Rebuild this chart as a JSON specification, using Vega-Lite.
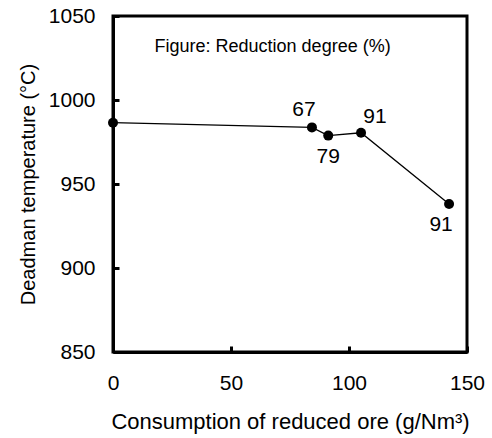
{
  "$schema": "https://vega.github.io/schema/vega-lite/v6.json",
  "width": 354,
  "height": 336,
  "autosize": "none",
  "padding": {"left": 113, "top": 16, "right": 25, "bottom": 86},
  "background": "white",
  "config": {
    "font": "Liberation Sans",
    "view": {"stroke": "black", "strokeWidth": 3},
    "axis": {
      "grid": false,
      "domainColor": "black",
      "domainWidth": 3,
      "tickColor": "black",
      "tickWidth": 3,
      "tickSize": -6,
      "labelFont": "Liberation Sans",
      "labelFontSize": 21,
      "labelColor": "black",
      "titleFont": "Liberation Sans",
      "titleFontWeight": "normal",
      "titleColor": "black",
      "format": "d"
    }
  },
  "datasets": {
    "pts": [
      {"ore": 0, "temp": 986.5, "degree": ""},
      {"ore": 84.3, "temp": 983.7, "degree": "67"},
      {"ore": 91.2, "temp": 978.8, "degree": "79"},
      {"ore": 105.1, "temp": 980.5, "degree": "91"},
      {"ore": 142.4, "temp": 938.1, "degree": "91"}
    ],
    "note": [
      {"ore": 17.6, "temp": 1031.5, "text": "Figure: Reduction degree (%)"}
    ]
  },
  "layer": [
    {
      "data": {"name": "pts"},
      "mark": {"type": "line", "color": "black", "strokeWidth": 1.3},
      "encoding": {
        "x": {
          "field": "ore", "type": "quantitative",
          "scale": {"domain": [0, 150], "nice": false},
          "axis": {"values": [0, 50, 100, 150], "format": "d", "labelPadding": 26, "title": "Consumption of reduced ore (g/Nm³)", "titleFontSize": 22, "titlePadding": 18, "labelFlush": false}
        },
        "y": {
          "field": "temp", "type": "quantitative",
          "scale": {"domain": [850, 1050], "nice": false, "zero": false},
          "axis": {"values": [850, 900, 950, 1000, 1050], "format": "d", "labelPadding": 24, "title": "Deadman temperature (°C)", "titleFontSize": 20, "titlePadding": 10, "labelFlush": false}
        }
      }
    },
    {
      "data": {"name": "pts"},
      "mark": {"type": "point", "filled": true, "color": "black", "size": 100, "opacity": 1},
      "encoding": {
        "x": {"field": "ore", "type": "quantitative"},
        "y": {"field": "temp", "type": "quantitative"}
      }
    },
    {
      "data": {"name": "pts"},
      "transform": [{"filter": "datum.degree == '67'"}],
      "mark": {"type": "text", "fontSize": 21, "color": "black", "dx": -8, "dy": -17},
      "encoding": {
        "x": {"field": "ore", "type": "quantitative"},
        "y": {"field": "temp", "type": "quantitative"},
        "text": {"field": "degree"}
      }
    },
    {
      "data": {"name": "pts"},
      "transform": [{"filter": "datum.degree == '79'"}],
      "mark": {"type": "text", "fontSize": 21, "color": "black", "dx": 0, "dy": 21},
      "encoding": {
        "x": {"field": "ore", "type": "quantitative"},
        "y": {"field": "temp", "type": "quantitative"},
        "text": {"field": "degree"}
      }
    },
    {
      "data": {"name": "pts"},
      "transform": [{"filter": "datum.degree == '91' && datum.ore < 120"}],
      "mark": {"type": "text", "fontSize": 21, "color": "black", "dx": 14, "dy": -16},
      "encoding": {
        "x": {"field": "ore", "type": "quantitative"},
        "y": {"field": "temp", "type": "quantitative"},
        "text": {"field": "degree"}
      }
    },
    {
      "data": {"name": "pts"},
      "transform": [{"filter": "datum.degree == '91' && datum.ore > 120"}],
      "mark": {"type": "text", "fontSize": 21, "color": "black", "dx": -8, "dy": 21},
      "encoding": {
        "x": {"field": "ore", "type": "quantitative"},
        "y": {"field": "temp", "type": "quantitative"},
        "text": {"field": "degree"}
      }
    },
    {
      "data": {"name": "note"},
      "mark": {"type": "text", "fontSize": 18, "color": "black", "align": "left", "baseline": "middle"},
      "encoding": {
        "x": {"field": "ore", "type": "quantitative"},
        "y": {"field": "temp", "type": "quantitative"},
        "text": {"field": "text"}
      }
    }
  ]
}
